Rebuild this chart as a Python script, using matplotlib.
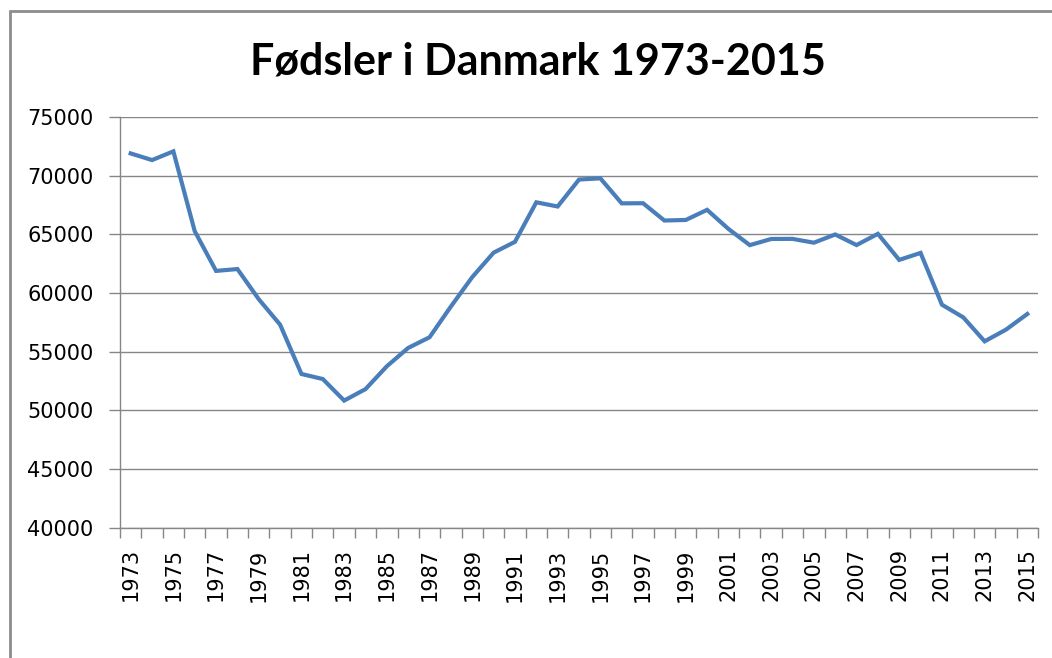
import matplotlib
matplotlib.use('Agg')
import matplotlib.pyplot as plt
from matplotlib.patches import Rectangle

# levendefødte pr. år
years = list(range(1973, 2016))
births = [71895, 71327, 72071, 65267, 61878, 62036, 59464, 57293, 53089, 52658,
          50822, 51800, 53749, 55312, 56221, 58844, 61351, 63433, 64358, 67726,
          67369, 69666, 69771, 67638, 67648, 66174, 66220, 67084, 65458, 64075,
          64599, 64609, 64282, 64984, 64082, 65038, 62818, 63411, 58998, 57916,
          55873, 56870, 58205]
title = 'Fødsler i Danmark 1973-2015'
y_ticks = [40000, 45000, 50000, 55000, 60000, 65000, 70000, 75000]

W, H = 1052, 658
fig = plt.figure(figsize=(W / 100, H / 100), dpi=100)

# grå ramme om diagramområdet (beskåret i højre og nederste kant)
fig.patches.append(Rectangle((10 / W, -0.1), 1.2, 1 - 11 / H + 0.1,
                             transform=fig.transFigure, fill=False,
                             edgecolor='#8c8c8c', linewidth=2))

ax = fig.add_axes([120 / W, (H - 527.5) / H, (1038 - 120) / W, (527.5 - 117) / H])

x = list(range(len(years)))
ax.plot(x, births, color='#4a7ebb', linewidth=3, solid_joinstyle='miter', zorder=3)

ax.set_xlim(-0.5, len(years) - 0.5)
ax.set_ylim(40000, 75000)
ax.set_yticks(y_ticks)
ax.set_yticklabels([str(v) for v in y_ticks])

# kategoriakse: streger mellem kategorierne, etiket ved hvert andet år
ax.set_xticks([i - 0.5 for i in range(len(years) + 1)], minor=True)
ax.set_xticks(x[::2])
ax.set_xticklabels([str(y) for y in years[::2]], rotation=90)
ax.tick_params(axis='x', which='major', length=0, pad=15, labelsize=15)
ax.tick_params(axis='x', which='minor', length=7, width=1, color='#868686', direction='out')
ax.tick_params(axis='y', length=8, width=1, color='#868686', direction='out', pad=11, labelsize=15)

ax.grid(axis='y', color='#868686', linewidth=1)
ax.set_axisbelow(True)
for side in ['top', 'right']:
    ax.spines[side].set_visible(False)
for side in ['left', 'bottom']:
    ax.spines[side].set_color('#868686')
    ax.spines[side].set_linewidth(1)

fig.text(538 / W, 1 - 62 / H, title, ha='center', va='center',
         fontsize=31, fontweight='bold', family='Lato')

fig.savefig('out.png', dpi=100)
